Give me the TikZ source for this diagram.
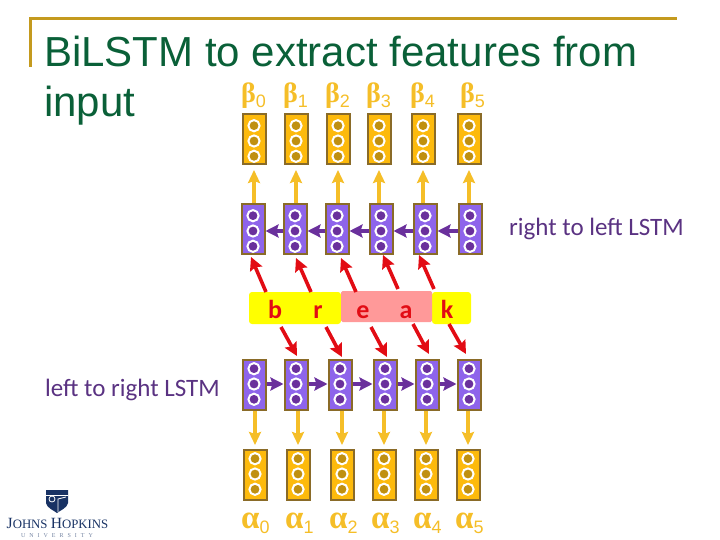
\documentclass[tikz,border=0pt]{standalone}
\usepackage{fontspec}
\setmainfont{Liberation Sans}
\newfontfamily\labelfont{Carlito}
\newfontfamily\greekfont{Liberation Serif}
\usetikzlibrary{arrows.meta,calc,positioning}
\definecolor{slidegreen}{RGB}{10,96,56}
\definecolor{slidegold}{RGB}{196,154,30}
\definecolor{cellbrown}{RGB}{138,107,40}
\definecolor{amberfill}{RGB}{253,186,12}
\definecolor{amberdot}{RGB}{192,144,16}
\definecolor{amberline}{RGB}{245,190,40}
\definecolor{violetfill}{RGB}{142,100,235}
\definecolor{violetdot}{RGB}{106,48,156}
\definecolor{labelviolet}{RGB}{90,50,130}
\definecolor{arrowred}{RGB}{226,12,20}
\definecolor{hiyellow}{RGB}{255,255,0}
\definecolor{hipink}{RGB}{255,153,153}
\definecolor{shieldnavy}{RGB}{24,50,100}
\tikzset{
  cellbox/.style={draw=cellbrown, line width=2pt, minimum width=23pt, minimum height=50pt, inner sep=0pt},
  ambercell/.style={cellbox, fill=amberfill},
  violetcell/.style={cellbox, fill=violetfill},
  hibar/.style={rounded corners=3pt, inner sep=0pt},
  lettertext/.style={font=\labelfont\bfseries\fontsize{26}{26}\selectfont, text=arrowred, anchor=base, inner sep=0pt},
  greektext/.style={text=amberline, anchor=base west, inner sep=0pt},
  sidetext/.style={font=\labelfont\fontsize{25}{25}\selectfont, text=labelviolet, anchor=base west, inner sep=0pt},
  titletext/.style={anchor=base west, inner sep=0pt, text=slidegreen, font=\fontsize{42}{42}\selectfont},
  amberarrow/.style={-{Stealth[length=13pt,width=12pt,inset=2pt]}, line width=3.4pt, amberline},
  violetarrow/.style={-{Stealth[length=13pt,width=13pt,inset=2pt]}, line width=3.6pt, violetdot},
  redarrow/.style={-{Stealth[length=13pt,width=13pt,inset=2pt]}, line width=3.6pt, arrowred},
}
\newcommand{\celldots}[4]{% x, y of the middle dot, ring colour, dot colour
  \foreach \dy in {-15.3,0,15.3}
    \draw[draw=#3, fill=#4, line width=2pt] (#1,#2+\dy) circle (5.6pt);
}
\newcommand{\greeksub}[3]{{\greekfont\bfseries\fontsize{#1}{#1}\selectfont #2}\raisebox{-5pt}{\fontsize{18}{18}\selectfont #3}}
\begin{document}
\begin{tikzpicture}[x=1pt,y=-1pt]
  \useasboundingbox (0,0) rectangle (720,540);
  % slide frame
  \fill[slidegold] (29,17) rectangle (677,20);
  \fill[slidegold] (29,17) rectangle (32,67);
  \node[titletext] (title) at (44,67) {BiLSTM to extract features from};
  \node[titletext] (titleb) at (44,117) {input};

  % output of backward layer
  \foreach \i/\x in {0/254,1/296,2/338,3/379,4/423,5/469} {
    \node[ambercell] (beta\i) at (\x,139) {};
    \celldots{\x}{141}{white}{amberdot}
  }
  % backward layer
  \foreach \i/\x in {0/253,1/295,2/337,3/381,4/425,5/470} {
    \node[violetcell] (up\i) at (\x,229) {};
    \celldots{\x}{231}{white}{violetdot}
  }
  % forward layer
  \foreach \i/\x in {0/254,1/296,2/340,3/385,4/427,5/469} {
    \node[violetcell] (low\i) at (\x,385) {};
    \celldots{\x}{384}{white}{violetdot}
  }
  % output of forward layer
  \foreach \i/\x in {0/255,1/298,2/342,3/384,4/426,5/468} {
    \node[ambercell] (alpha\i) at (\x,475) {};
    \celldots{\x}{474}{white}{amberdot}
  }

  % vertical arrows
  \foreach \i in {0,...,5} {
    \draw[amberarrow, shorten >=5pt] (beta\i.south |- up\i.north) -- (beta\i.south);
    \draw[amberarrow, shorten >=4pt] (alpha\i.north |- low\i.south) -- (alpha\i.north);
  }
  % horizontal arrows
  \foreach \i/\j in {1/0,2/1,3/2,4/3,5/4}
    \draw[violetarrow] ([yshift=-2pt]up\i.west) -- ([yshift=-2pt]up\j.east);
  \foreach \i/\j in {0/1,1/2,2/3,3/4,4/5}
    \draw[violetarrow] ([yshift=1pt]low\i.east) -- ([yshift=1pt]low\j.west);

  % word
  \node[hibar, fill=hiyellow, minimum width=92pt, minimum height=32pt] (barb) at (295,308) {};
  \node[hibar, fill=hiyellow, minimum width=39pt, minimum height=32pt] (bark) at (451.5,308) {};
  \node[hibar, rounded corners=1.5pt, fill=hipink, minimum width=91pt, minimum height=31pt] (barp) at (386.5,306.5) {};
  \foreach \n/\x/\t in {letb/275/b,letr/318/r,lete/363/e,leta/406/a,letk/447/k}
    \node[lettertext] (\n) at (\x,318) {\t};

  % arrows from the letters
  \foreach \n/\sx/\sy/\ex/\ey in {up0/266/292/251/257,up1/311/292/296/258,up2/356/292/341/258,up3/398/289/383/255,up4/434/289/419/255} {
    \coordinate (from\n) at (\sx,\sy);
    \coordinate (to\n) at (\ex,\ey);
    \draw[redarrow] (from\n) -- (to\n);
  }
  \foreach \n/\sx/\sy/\ex/\ey in {low1/281/327/297/356,low2/326/327/342/357,low3/371/327/387/357,low4/413/324/429/354,low5/449/324/466/354} {
    \coordinate (from\n) at (\sx,\sy);
    \coordinate (to\n) at (\ex,\ey);
    \draw[redarrow] (from\n) -- (to\n);
  }

  % side labels
  \node[sidetext] (rightlabel) at (509,236) {right to left LSTM};
  \node[sidetext] (leftlabel) at (45,396) {left to right LSTM};

  % greek labels
  \foreach \i/\x in {0/241,1/283,2/325,3/366,4/410,5/460}
    \node[greektext] (betalabel\i) at (\x,103) {\greeksub{28}{β}{\i}};
  \foreach \i/\x in {0/241,1/285,2/329,3/371,4/413,5/455}
    \node[greektext] (alphalabel\i) at (\x,528) {\greeksub{33}{α}{\i}};

  % logo
  \fill[shieldnavy] (46,490) -- (68,490) -- (68,503) .. controls (67,508) and (61,510) .. (57,513) .. controls (53,510) and (47,508) .. (46,503) -- cycle;
  \draw[white, line width=0.8pt] (46,495) -- (68,495);
  \draw[white, line width=0.8pt] (52,499) circle (3pt);
  \draw[white, line width=0.8pt] (58,512) -- (58,499) -- (66,497);
  \node[anchor=base, inner sep=0pt, text=shieldnavy, font=\greekfont\fontsize{15.6}{15.6}\selectfont] (logotext) at (57.5,528) {J\fontsize{12.8}{12.8}\selectfont OHNS \fontsize{15.6}{15.6}\selectfont H\fontsize{12.8}{12.8}\selectfont OPKINS};
  \node[anchor=base, inner sep=0pt, text=shieldnavy!60, font=\greekfont\fontsize{6}{6}\selectfont] (logosub) at (57,537) {U\hspace{4pt}N\hspace{4pt}I\hspace{4pt}V\hspace{4pt}E\hspace{4pt}R\hspace{4pt}S\hspace{4pt}I\hspace{4pt}T\hspace{4pt}Y};
\end{tikzpicture}
\end{document}
